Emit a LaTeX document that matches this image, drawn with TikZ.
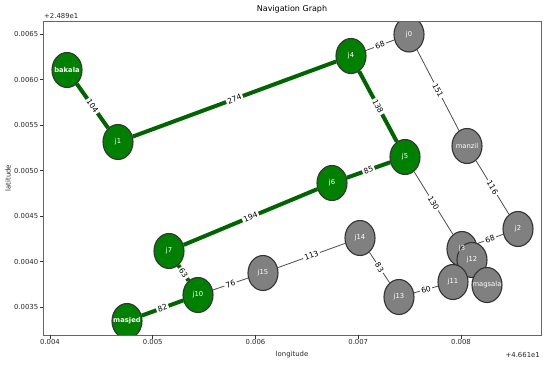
\documentclass[tikz,border=0pt]{standalone}
\usepackage{fontspec}
\setmainfont{DejaVu Sans}
\usetikzlibrary{shapes.geometric,backgrounds}
\definecolor{routegreen}{HTML}{006400}
\definecolor{stopgreen}{HTML}{008000}
\definecolor{stopgray}{HTML}{808080}

\begin{document}
\begin{tikzpicture}[x=1pt,y=-1pt,
  stop/.style={ellipse, minimum width=30pt, minimum height=35pt, inner sep=0pt, draw=black!80, line width=1.1pt},
  onroute/.style={stop, fill=stopgreen},
  offroute/.style={stop, fill=stopgray},
  stopname/.style={text=white, inner sep=0pt, font=\fontsize{6.8}{7}\selectfont},
  route/.style={routegreen, line width=4pt},
  road/.style={black!70, line width=0.8pt},
  dist/.style={midway, sloped, fill=white, text=black, inner sep=1.5pt, font=\fontsize{7.6}{8}\selectfont},
  tickmark/.style={black!80, line width=0.6pt},
  ticktext/.style={font=\fontsize{6.9}{7}\selectfont, text=black!85, inner sep=1pt}]
\useasboundingbox (0,0) rectangle (550,365);

% stops, clipped to the axes box
\begin{scope}
\clip (43,21) rectangle (541,335);
\node[onroute] (bakala) at (67,70) {};
\node[onroute] (j1) at (118,142) {};
\node[onroute] (j4) at (351,56) {};
\node[offroute] (j0) at (409,34.5) {};
\node[offroute] (manzil) at (467,146) {};
\node[onroute] (j5) at (405,157) {};
\node[onroute] (j6) at (332,183) {};
\node[onroute] (j7) at (169,251) {};
\node[onroute] (j10) at (198,295) {};
\node[onroute] (masjed) at (127,321) {};
\node[offroute] (j15) at (263,273) {};
\node[offroute] (j14) at (360,238) {};
\node[offroute] (j13) at (399,297) {};
\node[offroute] (j2) at (518,229) {};
\node[offroute] (j3) at (462,249) {};
\node[offroute] (j12) at (472,260) {};
\node[offroute] (j11) at (453,282) {};
\node[offroute] (magsala) at (487,285) {};
\end{scope}

% roads
\begin{scope}[on background layer]
\draw[route] (bakala) -- node[dist] {104} (j1);
\draw[route] (j1) -- node[dist] {274} (j4);
\draw[route] (j4) -- node[dist] {138} (j5);
\draw[route] (j5) -- node[dist] {85} (j6);
\draw[route] (j6) -- node[dist] {194} (j7);
\draw[route] (j7) -- node[dist] {63} (j10);
\draw[route] (j10) -- node[dist] {82} (masjed);
\draw[road] (j4) -- node[dist] {68} (j0);
\draw[road] (j0) -- node[dist] {151} (manzil);
\draw[road] (manzil) -- node[dist] {116} (j2);
\draw[road] (j2) -- node[dist] {68} (j3);
\draw[road] (j5) -- node[dist] {130} (j3);
\draw[road] (j10) -- node[dist] {76} (j15);
\draw[road] (j15) -- node[dist] {113} (j14);
\draw[road] (j14) -- node[dist] {83} (j13);
\draw[road] (j13) -- node[dist] {60} (j11);
\end{scope}

% stop names on top
\node[stopname, font=\fontsize{6.8}{7}\bfseries] (bakalatxt) at (bakala) {bakala};
\node[stopname] (j1txt) at (j1) {j1};
\node[stopname] (j4txt) at (j4) {j4};
\node[stopname] (j0txt) at (j0) {j0};
\node[stopname] (manziltxt) at (manzil) {manzil};
\node[stopname] (j5txt) at (j5) {j5};
\node[stopname] (j6txt) at (j6) {j6};
\node[stopname] (j7txt) at (j7) {j7};
\node[stopname] (j10txt) at (j10) {j10};
\node[stopname, font=\fontsize{6.8}{7}\bfseries] (masjedtxt) at (masjed) {masjed};
\node[stopname] (j15txt) at (j15) {j15};
\node[stopname] (j14txt) at (j14) {j14};
\node[stopname] (j13txt) at (j13) {j13};
\node[stopname] (j2txt) at (j2) {j2};
\node[stopname] (j3txt) at (j3) {j3};
\node[stopname] (j12txt) at (j12) {j12};
\node[stopname] (j11txt) at (j11) {j11};
\node[stopname] (magsalatxt) at (magsala) {magsala};

% axes
\draw[black!60, line width=0.8pt] (43,21) rectangle (541,335);
\draw[tickmark] (50,335) -- (50,338.5) node[ticktext, below] (x1) {0.004};
\draw[tickmark] (152.75,335) -- (152.75,338.5) node[ticktext, below] (x2) {0.005};
\draw[tickmark] (255.5,335) -- (255.5,338.5) node[ticktext, below] (x3) {0.006};
\draw[tickmark] (358.25,335) -- (358.25,338.5) node[ticktext, below] (x4) {0.007};
\draw[tickmark] (461,335) -- (461,338.5) node[ticktext, below] (x5) {0.008};
\draw[tickmark] (43,34) -- (39.5,34) node[ticktext, left] (y1) {0.0065};
\draw[tickmark] (43,79.5) -- (39.5,79.5) node[ticktext, left] (y2) {0.0060};
\draw[tickmark] (43,125) -- (39.5,125) node[ticktext, left] (y3) {0.0055};
\draw[tickmark] (43,170.5) -- (39.5,170.5) node[ticktext, left] (y4) {0.0050};
\draw[tickmark] (43,216) -- (39.5,216) node[ticktext, left] (y5) {0.0045};
\draw[tickmark] (43,261.5) -- (39.5,261.5) node[ticktext, left] (y6) {0.0040};
\draw[tickmark] (43,307) -- (39.5,307) node[ticktext, left] (y7) {0.0035};
\node[ticktext, anchor=south west] (yoffset) at (43,20) {+2.489e1};
\node[ticktext, anchor=east] (xoffset) at (541,355) {+4.661e1};
\node[ticktext] (xname) at (292,355) {longitude};
\node[ticktext, rotate=90] (yname) at (8,178) {latitude};
\node[font=\fontsize{8}{9}\selectfont] (title) at (292,9) {Navigation Graph};
\end{tikzpicture}
\end{document}
